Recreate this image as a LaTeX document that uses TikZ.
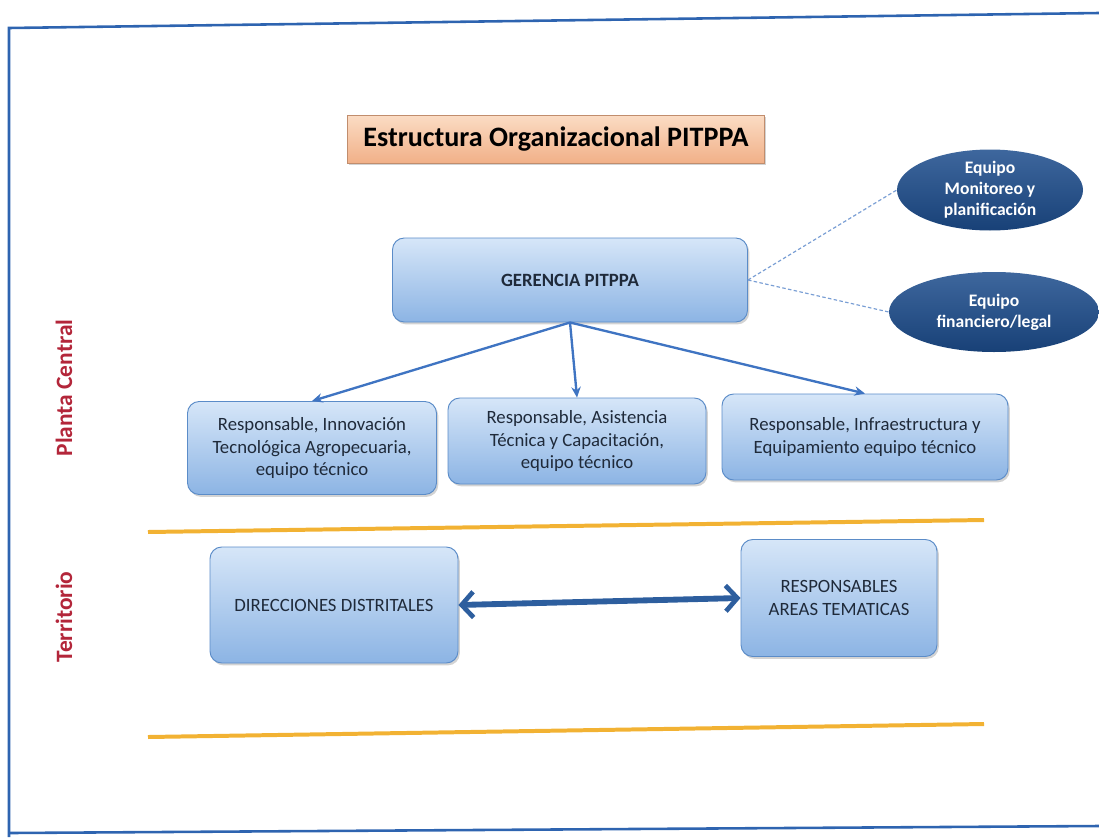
\documentclass[tikz,border=0pt]{standalone}
\usepackage{fontspec}
\setmainfont{Carlito}
\usetikzlibrary{shapes.geometric,shadows,arrows.meta}
\definecolor{marco}{HTML}{2E64B0}
\definecolor{cajaarr}{HTML}{D6E6F8}
\definecolor{cajaab}{HTML}{8CB4E4}
\definecolor{cajaborde}{HTML}{5B8CC8}
\definecolor{titarr}{HTML}{FBDCC4}
\definecolor{titab}{HTML}{F1B088}
\definecolor{elipse}{HTML}{1C4C8C}
\definecolor{flecha}{HTML}{3F74C2}
\definecolor{flechados}{HTML}{2D5E9E}
\definecolor{naranja}{HTML}{F2B233}
\definecolor{rojo}{HTML}{B3263A}
\definecolor{texto}{HTML}{1F2A3A}
\begin{document}
\begin{tikzpicture}[x=0.03cm,y=-0.03cm,>=stealth]
	\tikzset{caja/.style={rectangle,rounded corners=10pt,draw=cajaborde,line width=0.8pt,
			top color=cajaarr,bottom color=cajaab,text=texto,align=center,
			drop shadow={opacity=0.35,shadow xshift=1.5pt,shadow yshift=-2pt},
			font=\fontsize{16}{19.5}\selectfont,inner sep=2pt},
		titulo/.style={rectangle,draw=titab!80!black,line width=0.6pt,top color=titarr,bottom color=titab,
			drop shadow={opacity=0.35,shadow xshift=1.5pt,shadow yshift=-2pt},
			font=\fontsize{24}{28}\bfseries\selectfont,minimum width=417*0.03cm,minimum height=48*0.03cm},
		equipo/.style={ellipse,top color=elipse!85!white,bottom color=elipse!85!black,text=white,align=center,
			font=\fontsize{15}{18}\bfseries\selectfont,inner sep=0pt},
		zona/.style={rotate=90,text=rojo,font=\fontsize{20}{24}\bfseries\selectfont},
		rama/.style={->,draw=flecha,line width=2pt,-{Stealth[length=9pt,width=8pt]}},
		punteada/.style={draw=flecha!70!white,line width=1pt,dash pattern=on 3pt off 2pt}
	}
	\useasboundingbox (0,0) rectangle (1099,837);
	\draw[marco,line width=2.2pt] (9,837)--(9,28)--(1099,13);
	\draw[marco,line width=2.2pt] (10,833)--(1099,826);
	\foreach \ya/\yb in {532/520, 737/724}{
		\draw[naranja,line width=3.4pt] (148,\ya)--(984,\yb);
	}
	\node[titulo] (tit) at (556,139) {Estructura Organizacional PITPPA};
	\node[caja,minimum width=355*0.03cm,minimum height=84*0.03cm,font=\fontsize{16}{19}\bfseries\selectfont] (ger) at (570,280) {GERENCIA PITPPA};
	\node[equipo,minimum width=186*0.03cm,minimum height=80*0.03cm] (mon) at (990,190) {Equipo\\Monitoreo y\\planificación};
	\node[equipo,minimum width=210*0.03cm,minimum height=80*0.03cm] (fin) at (994,312) {Equipo\\financiero/legal};
	\draw[punteada] (ger.east)--(mon.west);
	\draw[punteada] (ger.east)--(fin.west);
	\node[caja,minimum width=249*0.03cm,minimum height=93*0.03cm] (inn) at (312,448) {Responsable, Innovación\\Tecnológica Agropecuaria,\\equipo técnico};
	\node[caja,minimum width=258*0.03cm,minimum height=86*0.03cm] (asi) at (577,441) {Responsable, Asistencia\\Técnica y Capacitación,\\equipo técnico};
	\node[caja,minimum width=286*0.03cm,minimum height=86*0.03cm] (inf) at (865,437) {Responsable, Infraestructura y\\Equipamiento equipo  técnico};
	\foreach \b in {inn,asi,inf}{
		\draw[rama] (ger.south)--(\b.north);
	}
	\node[caja,minimum width=248*0.03cm,minimum height=116*0.03cm] (dir) at (334,605) {DIRECCIONES DISTRITALES};
	\node[caja,minimum width=196*0.03cm,minimum height=117*0.03cm] (res) at (839,598) {RESPONSABLES\\AREAS TEMATICAS};
	\draw[flechados,line width=5pt,{Straight Barb[length=10pt,width=22pt,line width=4pt]}-{Straight Barb[length=10pt,width=22pt,line width=4pt]}] (dir.east)--(res.west);
	\node[zona] (pla) at (64,388) {Planta Central};
	\node[zona] (ter) at (64,617) {Territorio};
\end{tikzpicture}
\end{document}
